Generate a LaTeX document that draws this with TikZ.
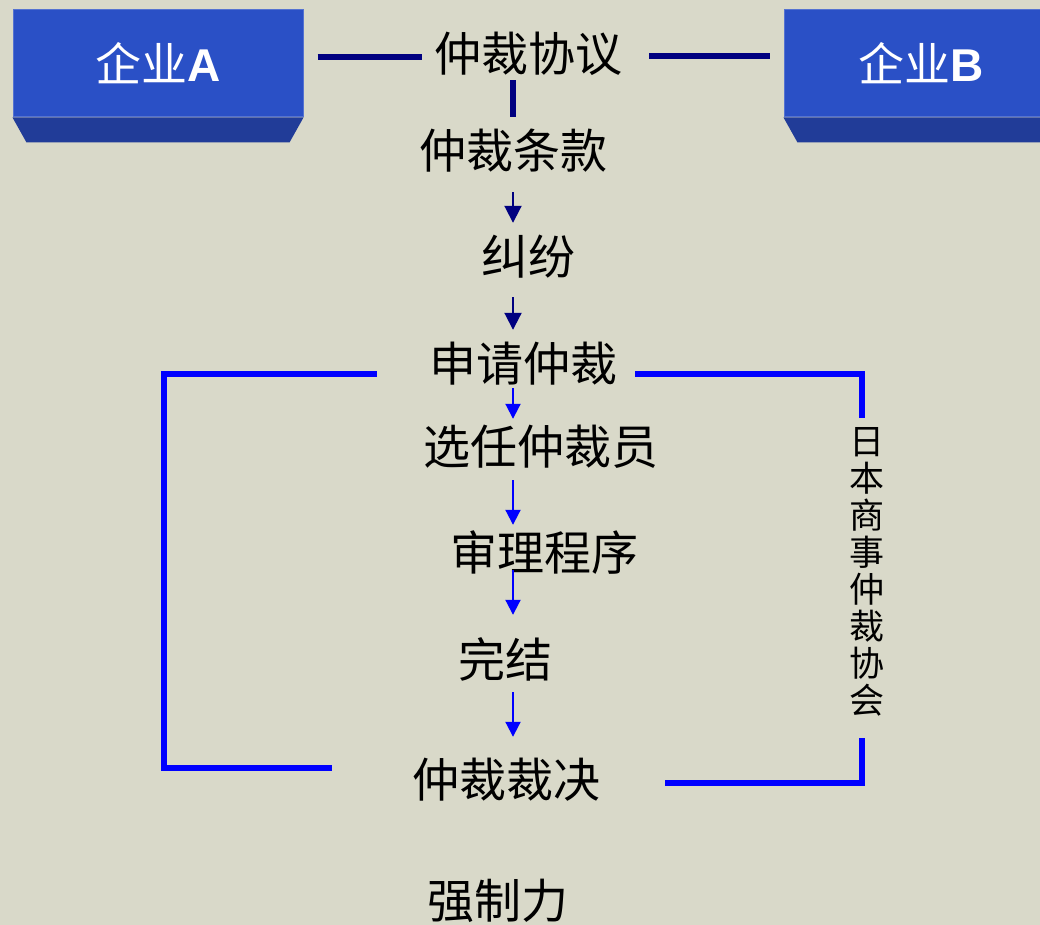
\documentclass[tikz,border=0pt]{standalone}
\usepackage{fontspec}
\setmainfont{Noto Sans CJK SC}
\newfontfamily\arialf{Liberation Sans}
\usetikzlibrary{arrows.meta}
\definecolor{bgc}{RGB}{217,217,201}
\definecolor{facec}{RGB}{42,80,198}
\definecolor{bevelc}{RGB}{33,60,152}
\definecolor{navyc}{RGB}{0,0,128}
\definecolor{bluec}{RGB}{0,0,255}
\begin{document}
\begin{tikzpicture}[x=1pt,y=-1pt,
  lbl/.style={inner sep=0, font=\fontsize{47}{50}\selectfont, text height=41.5pt, text depth=5.5pt},
  company/.style={fill=facec, draw=facec!80!white, line width=1, inner sep=0, minimum height=107, text=white, font=\fontsize{46}{50}\selectfont},
  bevel/.style={fill=bevelc},
  navyline/.style={draw=navyc, line width=6},
  bracket/.style={draw=bluec, line width=6},
  navyarr/.style={draw=navyc, line width=2, -{Triangle[length=17pt,width=17pt]}},
  bluearr/.style={draw=bluec, line width=2, -{Triangle[length=15pt,width=15pt]}},
]
\useasboundingbox (0,0) rectangle (1040,925);
\clip (0,0) rectangle (1040,925);
\fill[bgc] (0,0) rectangle (1040,925);

% companies
\node[company, minimum width=290] (boxA) at (158,63.5) {企业{\arialf\bfseries A}};
\fill[bevel] (boxA.south west) -- (boxA.south east) -- ++(-14,25) -- ([xshift=14,yshift=-25]boxA.south west) -- cycle;
\node[company, minimum width=274] (boxB) at (921,63.5) {企业{\arialf\bfseries B}};
\fill[bevel] (boxB.south west) -- (boxB.south east) -- ++(-14,25) -- ([xshift=14,yshift=-25]boxB.south west) -- cycle;

% labels
\node[lbl] (agree)   at (528,53.5)  {仲裁协议};
\node[lbl] (clause)  at (513,150.5) {仲裁条款};
\node[lbl] (dispute) at (528.5,256.5) {纠纷};
\node[lbl] (apply)   at (523.5,363.5) {申请仲裁};
\node[lbl] (select)  at (540.5,446.5) {选任仲裁员};
\node[lbl] (hearing) at (544,552.5) {审理程序};
\node[lbl] (finish)  at (505.5,659) {完结};
\node[lbl] (award)   at (506.5,779.5) {仲裁裁决};
\node[lbl] (force)   at (498,900) {强制力};
\node[inner sep=0, align=center, font=\fontsize{35}{37}\selectfont] (jcaa) at (867,572) {日\\本\\商\\事\\仲\\裁\\协\\会};

% top connectors
\draw[navyline] ([xshift=14,yshift=6.5]boxA.east) -- ([xshift=-12,yshift=-3.5]agree.west);
\draw[navyline] ([xshift=27,yshift=-2.5]agree.east) -- ([xshift=-14,yshift=7.5]boxB.west);
\draw[navyline, shorten <=3, shorten >=10] (clause.north |- agree.south) -- (clause.north);

% arrows
\draw[navyarr, shorten <=18, shorten >=10] (clause.south) -- (clause.south |- dispute.north);
\draw[navyarr, shorten <=17, shorten >=10] (clause.south |- dispute.south) -- (clause.south |- apply.north);
\draw[bluearr, shorten <=1, shorten >=4] (clause.south |- apply.south) -- (clause.south |- select.north);
\draw[bluearr, shorten <=10, shorten >=4] (clause.south |- select.south) -- (clause.south |- hearing.north);
\draw[bluearr, shorten <=-6, shorten >=20.5] (clause.south |- hearing.south) -- (clause.south |- finish.north);
\draw[bluearr, shorten <=9.5, shorten >=19] (clause.south |- finish.south) -- (clause.south |- award.north);

% brackets
\draw[bracket] ([xshift=-52.5,yshift=-10.5]apply.west) -- ++(-212.5,0) |- ([xshift=-80.5,yshift=11.5]award.west);
\draw[bracket] ([xshift=17.5,yshift=-10.5]apply.east) -| ([xshift=-5,yshift=154]jcaa.center);
\draw[bracket] ([xshift=-5,yshift=-166]jcaa.center) |- ([xshift=64.5,yshift=-3.5]award.east);
\end{tikzpicture}
\end{document}
